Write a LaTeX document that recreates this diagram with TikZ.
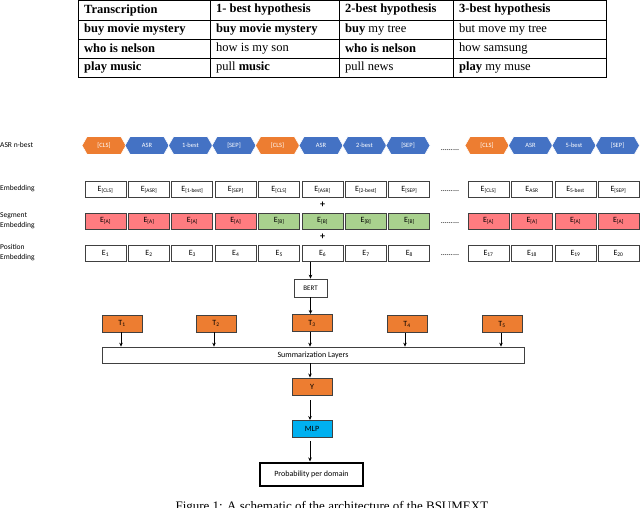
\documentclass[tikz,border=0pt]{standalone}
\usepackage{fontspec}
\setmainfont{Liberation Serif}
\newfontfamily\carl{Carlito}
\usetikzlibrary{shapes.symbols,arrows.meta}
\definecolor{org}{HTML}{ED7D31}
\definecolor{blu}{HTML}{4472C4}
\definecolor{pnk}{HTML}{FF7C80}
\definecolor{grn}{HTML}{A9D18E}
\definecolor{cyn}{HTML}{00B0F0}
\definecolor{bd}{HTML}{404040}
\begin{document}
\begin{tikzpicture}[x=1pt,y=-1pt,
 hex/.style={signal, signal to=west and east, signal pointer angle=120, draw=white, line width=0.6pt, minimum width=44pt, minimum height=18pt, inner sep=0pt, text=white, font=\carl\fontsize{6.5}{7}\selectfont},
 box/.style={draw=bd, line width=0.9pt, minimum width=41pt, minimum height=16pt, inner sep=0pt, font=\carl\fontsize{8}{9}\selectfont},
 tb/.style={draw=bd, fill=org, line width=0.9pt, minimum width=40pt, minimum height=17pt, inner sep=0pt, font=\carl\fontsize{8}{9}\selectfont},
 lbl/.style={anchor=west, align=left, font=\carl\fontsize{7.5}{10}\selectfont, inner sep=0pt},
 tc/.style={anchor=west, inner sep=0pt, font=\fontsize{12.5}{14}\selectfont},
 arr/.style={-{Stealth[length=4pt,width=3.5pt]}, line width=0.9pt, black},
 dots/.style={font=\carl\fontsize{8}{8}\selectfont}]
\useasboundingbox (0,0) rectangle (640,507);
% table
\draw[line width=0.5pt] (78,0.5) rectangle (606,77);
\foreach \y in {20,39,58} \draw[line width=0.5pt] (78,\y) -- (606,\y);
\foreach \x in {210,339,453} \draw[line width=0.5pt] (\x,0.5) -- (\x,77);
\node[tc] (t11) at (84,10) {\textbf{Transcription}};
\node[tc] (t12) at (216,10) {\textbf{1- best hypothesis}};
\node[tc] (t13) at (345,10) {\textbf{2-best hypothesis}};
\node[tc] (t14) at (459,10) {\textbf{3-best hypothesis}};
\node[tc] (t21) at (84,29.5) {\textbf{buy movie mystery}};
\node[tc] (t22) at (216,29.5) {\textbf{buy movie mystery}};
\node[tc] (t23) at (345,29.5) {\textbf{buy} my tree};
\node[tc] (t24) at (459,29.5) {but move my tree};
\node[tc] (t31) at (84,48.5) {\textbf{who is nelson}};
\node[tc] (t32) at (216,48.5) {how is my son};
\node[tc] (t33) at (345,48.5) {\textbf{who is nelson}};
\node[tc] (t34) at (459,48.5) {how samsung};
\node[tc] (t41) at (84,67.5) {\textbf{play music}};
\node[tc] (t42) at (216,67.5) {pull \textbf{music}};
\node[tc] (t43) at (345,67.5) {pull news};
\node[tc] (t44) at (459,67.5) {\textbf{play} my muse};
% labels
\node[lbl] (l1) at (0,145) {ASR n-best};
\node[lbl] (l2) at (0,189) {Embedding};
\node[lbl] (l3) at (0,221) {Segment\\Embedding};
\node[lbl] (l4) at (0,253) {Position\\Embedding};
% hexagons
\foreach \x/\c/\t/\n in {104/org/{[CLS]}/1,147/blu/ASR/2,190.5/blu/1-best/3,234/blu/{[SEP]}/4,277.5/org/{[CLS]}/5,321/blu/ASR/6,364.5/blu/2-best/7,408/blu/{[SEP]}/8,487/org/{[CLS]}/9,530.5/blu/ASR/10,574/blu/5-best/11,617.5/blu/{[SEP]}/12}
  \node[hex, fill=\c] (h\n) at (\x,145.5) {\t};
% embedding rows
\def\ctr{{0,105.5,149,192.4,235.8,279.2,322.6,366,409.4,488.5,532,575.5,618.5}}
\foreach \i/\t in {1/{[CLS]},2/{[ASR]},3/{[1-best]},4/{[SEP]},5/{[CLS]},6/{[ASR]},7/{[2-best]},8/{[SEP]},9/{[CLS]},10/{ASR},11/{5-best},12/{[SEP]}}
  \node[box] (e\i) at ({\ctr[\i]},189.5) {E$_{\mbox{\fontsize{5.5}{5}\selectfont\t}}$};
\foreach \i/\c/\t in {1/pnk/A,2/pnk/A,3/pnk/A,4/pnk/A,5/grn/B,6/grn/B,7/grn/B,8/grn/B,9/pnk/A,10/pnk/A,11/pnk/A,12/pnk/A}
  \node[box, fill=\c] (s\i) at ({\ctr[\i]},221) {E$_{\mbox{\fontsize{5.5}{5}\selectfont [\t]}}$};
\foreach \i/\t in {1/1,2/2,3/3,4/4,5/5,6/6,7/7,8/8,9/17,10/18,11/19,12/20}
  \node[box] (p\i) at ({\ctr[\i]},253.5) {E$_{\mbox{\fontsize{5.5}{5}\selectfont\t}}$};
\foreach \y/\n in {150/d1,191/d2,223/d3,255/d4}
  \node[dots] (\n) at (450,\y) {.........};
\node[font=\carl\bfseries\fontsize{10}{10}\selectfont, inner sep=0pt] (pl1) at (322.6,205) {+};
\node[font=\carl\bfseries\fontsize{10}{10}\selectfont, inner sep=0pt] (pl2) at (322.6,237) {+};
% lower part
\node[box, minimum width=33pt, minimum height=18pt, line width=0.7pt, font=\carl\fontsize{7}{8}\selectfont] (bert) at (310.5,288) {BERT};
\node[tb] (T1) at (122,323.5) {T$_{\mbox{\fontsize{5.5}{5}\selectfont 1}}$};
\node[tb] (T2) at (216,323.5) {T$_{\mbox{\fontsize{5.5}{5}\selectfont 2}}$};
\node[tb] (T3) at (312,323) {T$_{\mbox{\fontsize{5.5}{5}\selectfont 3}}$};
\node[tb] (T4) at (407,324) {T$_{\mbox{\fontsize{5.5}{5}\selectfont 4}}$};
\node[tb] (T5) at (502,324) {T$_{\mbox{\fontsize{5.5}{5}\selectfont 5}}$};
\node[box, minimum width=422pt, minimum height=16pt, line width=0.7pt] (sum) at (313,355) {Summarization Layers};
\node[tb] (Y) at (312,386.5) {Y};
\node[tb, fill=cyn] (mlp) at (312,429) {MLP};
\node[draw=black, line width=2pt, minimum width=103pt, minimum height=23pt, inner sep=0pt, font=\carl\fontsize{8}{9}\selectfont] (prob) at (311.5,474) {Probability per domain};
\draw[arr] (p6.south -| bert.north) -- (bert.north);
\draw[arr] (bert) -- (bert.south |- T3.north);
\foreach \n/\x in {T1/121,T2/214,T3/310,T4/405,T5/501}
  \draw[arr] (\n.south -| \x,0) -- (sum.north -| \x,0);
\draw[arr] (sum.south -| 310,0) -- (Y.north -| 310,0);
\draw[arr] (310,400) -- (mlp.north -| 310,0);
\draw[arr] (310,441) -- (prob.north -| 310,0);
\node[font=\fontsize{13}{15}\selectfont, anchor=base] (cap) at (333,510) {Figure 1: A schematic of the architecture of the BSUMEXT.};
\end{tikzpicture}
\end{document}
